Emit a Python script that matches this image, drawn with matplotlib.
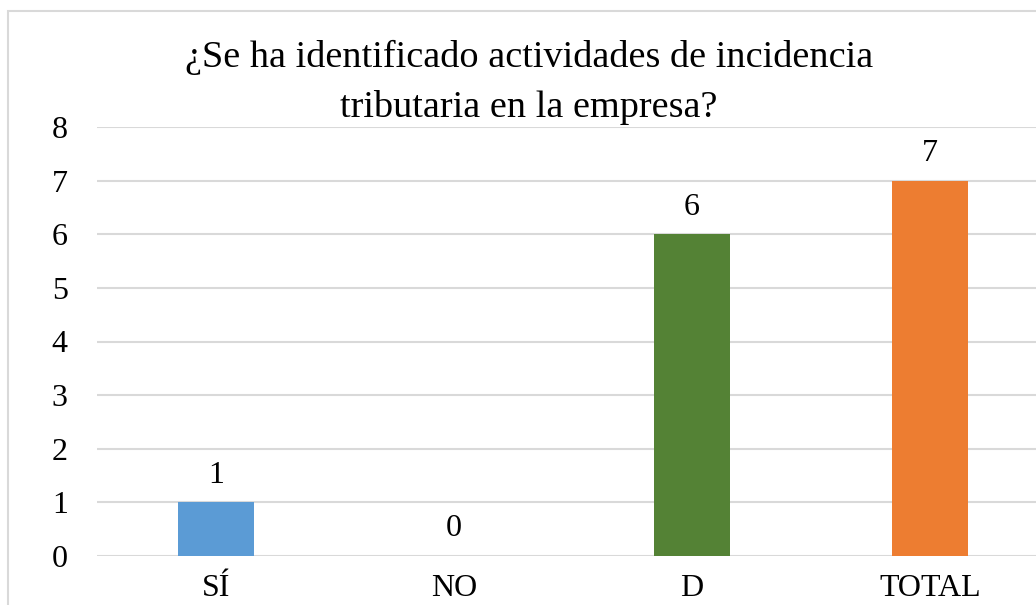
from matplotlib import pyplot as plt
from matplotlib.patches import Rectangle

categories = ['SÍ', 'NO', 'D', 'TOTAL']
values = [1, 0, 6, 7]
colors = ['#5B9BD5', '#A5A5A5', '#548235', '#ED7D31']
y_ticks = [0, 1, 2, 3, 4, 5, 6, 7, 8]
title_lines = ['¿Se ha identificado actividades de incidencia',
               'tributaria en la empresa?']

plt.rcParams['font.family'] = ['Liberation Serif', 'DejaVu Serif']

fig = plt.figure(figsize=(10.36, 6.05), dpi=100)
fig.patches.append(Rectangle((8 / 1036, -0.1), 1.2, 1 - 11 / 605 + 0.1,
                             transform=fig.transFigure, fill=False,
                             edgecolor='#D9D9D9', linewidth=1.5))

ax = fig.add_axes([97 / 1036, 49 / 605, 952 / 1036, 429 / 605])
x = range(len(categories))
ax.bar(x, values, width=0.32, color=colors, zorder=3)
for i, v in enumerate(values):
    ax.annotate(str(v), (i, v), xytext=(0, 9), textcoords='offset points',
                ha='center', va='bottom', fontsize=23)

ax.set_xlim(-0.5, len(categories) - 0.5)
ax.set_ylim(0, 8)
ax.set_yticks(y_ticks)
ax.set_xticks(list(x))
ax.set_xticklabels(categories)
ax.tick_params(axis='both', length=0, labelsize=23)
ax.tick_params(axis='x', pad=13)
ax.tick_params(axis='y', pad=21)
ax.grid(axis='y', color='#D9D9D9', linewidth=1.5, zorder=0)
for s in ax.spines.values():
    s.set_visible(False)

# title as two lines, each placed on its own baseline
for line, base in zip(title_lines, [67, 117]):
    fig.text(529 / 1036, 1 - base / 605, line, ha='center', va='baseline',
             fontsize=27.5)

fig.savefig('out.png', dpi=100)
